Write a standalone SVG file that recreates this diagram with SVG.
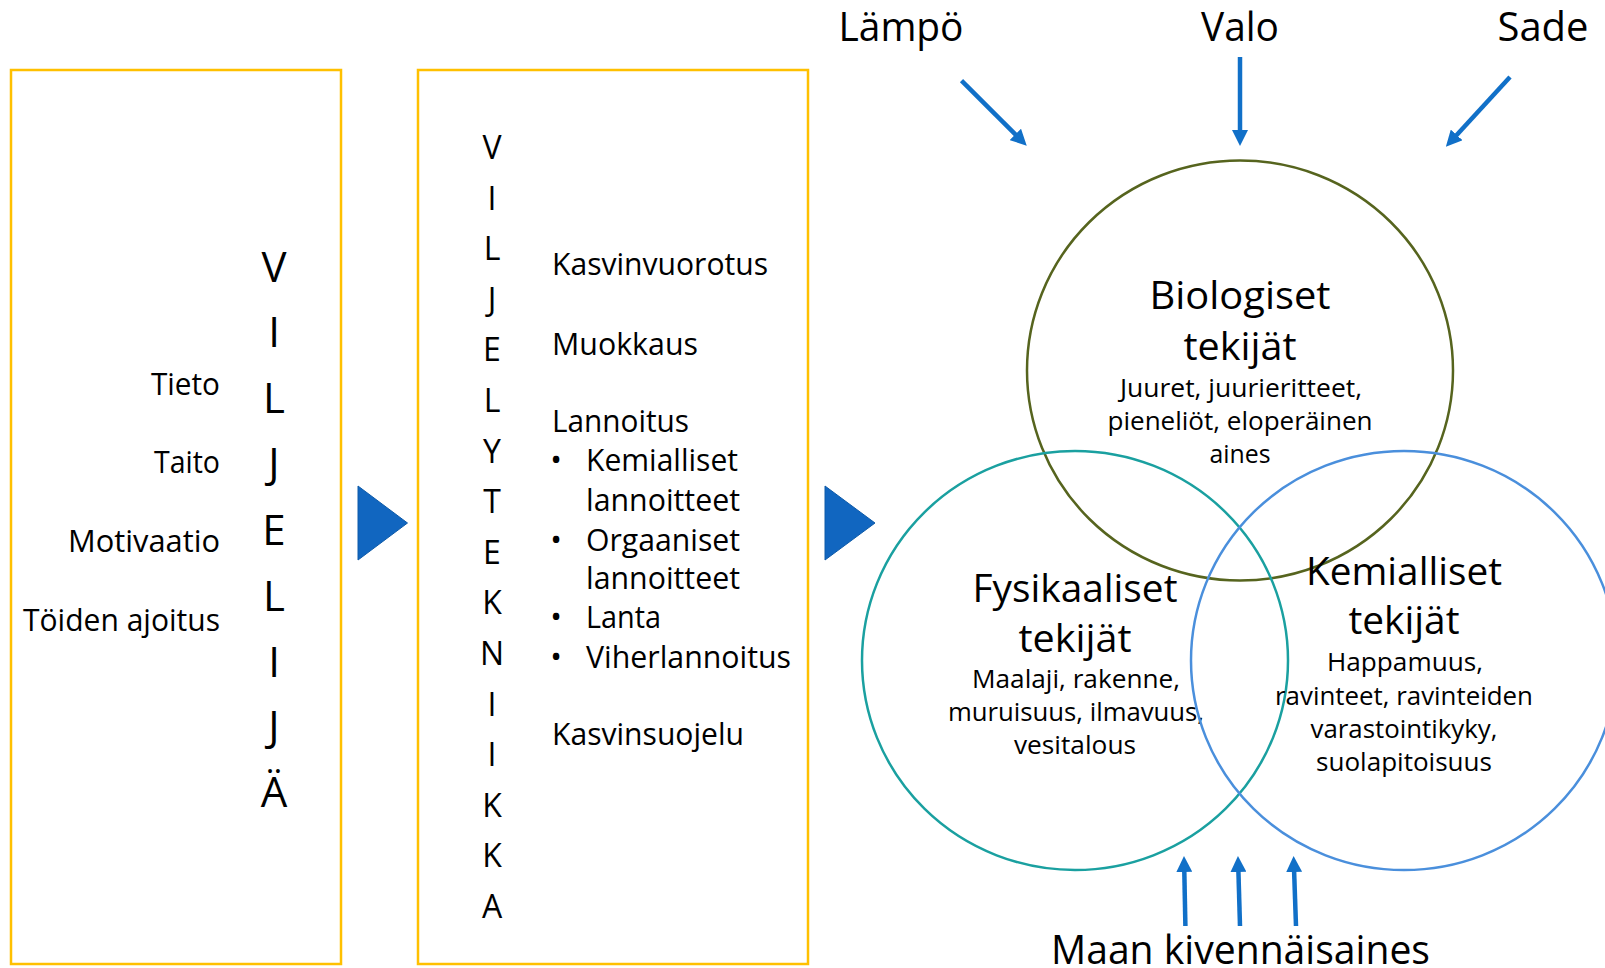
<svg xmlns="http://www.w3.org/2000/svg" width="1605" height="968" viewBox="0 0 1605 968">
<defs>
<style>
text{font-family:"Open Sans","Noto Sans","DejaVu Sans",sans-serif;fill:#000}
.box{fill:#fff;stroke:#FFC000;stroke-width:2.5}
.tri{fill:#1166C0;stroke:#0E5AA8;stroke-width:1}
.arr{stroke:#1170C8;stroke-width:4.5;fill:none;marker-end:url(#ah)}
.big{font-size:42px;text-anchor:middle}
.word{font-size:31px;text-anchor:end}
.col{font-size:32px;text-anchor:middle}
.li{font-size:31px}
.top{font-size:40px;text-anchor:middle}
.title{font-size:39px;text-anchor:middle}
.body{font-size:25px;text-anchor:middle}
</style>
<marker id="ah" viewBox="0 0 16 16" markerUnits="userSpaceOnUse" markerWidth="16" markerHeight="16" refX="1" refY="8" orient="auto">
<path d="M0,0 L16,8 L0,16 z" fill="#1170C8"/>
</marker>
</defs>
<rect width="1605" height="968" fill="#fff"/>

<g id="viljelija">
<rect class="box" x="11" y="70" width="330" height="894"/>
<text class="word" x="220" y="395" textLength="69" lengthAdjust="spacingAndGlyphs">Tieto</text>
<text class="word" x="220" y="473" textLength="66" lengthAdjust="spacingAndGlyphs">Taito</text>
<text class="word" x="220" y="552" textLength="152" lengthAdjust="spacingAndGlyphs">Motivaatio</text>
<text class="word" x="220" y="631" textLength="197" lengthAdjust="spacingAndGlyphs">Töiden ajoitus</text>
<text class="big" x="274" y="282">V</text>
<text class="big" x="274" y="347">I</text>
<text class="big" x="274" y="413">L</text>
<text class="big" x="274" y="478">J</text>
<text class="big" x="274" y="545">E</text>
<text class="big" x="274" y="611">L</text>
<text class="big" x="274" y="677">I</text>
<text class="big" x="274" y="741">J</text>
<text class="big" x="274" y="807">Ä</text>
</g>

<g id="arrow1"><polygon class="tri" points="358,486 407.5,523 358,560"/></g>

<g id="viljelytekniikka">
<rect class="box" x="418" y="70" width="390" height="894"/>
<text class="col" x="492" y="159">V</text>
<text class="col" x="492" y="209.6">I</text>
<text class="col" x="492" y="260.2">L</text>
<text class="col" x="492" y="310.8">J</text>
<text class="col" x="492" y="361.4">E</text>
<text class="col" x="492" y="412">L</text>
<text class="col" x="492" y="462.6">Y</text>
<text class="col" x="492" y="513.2">T</text>
<text class="col" x="492" y="563.8">E</text>
<text class="col" x="492" y="614.4">K</text>
<text class="col" x="492" y="665">N</text>
<text class="col" x="492" y="715.6">I</text>
<text class="col" x="492" y="766.2">I</text>
<text class="col" x="492" y="816.8">K</text>
<text class="col" x="492" y="867.4">K</text>
<text class="col" x="492" y="918">A</text>
<text class="li" x="552" y="275" textLength="216" lengthAdjust="spacingAndGlyphs">Kasvinvuorotus</text>
<text class="li" x="552" y="355" textLength="146" lengthAdjust="spacingAndGlyphs">Muokkaus</text>
<text class="li" x="552" y="432" textLength="137" lengthAdjust="spacingAndGlyphs">Lannoitus</text>
<text class="li" x="556" y="471" text-anchor="middle">•</text>
<text class="li" x="586" y="471" textLength="152" lengthAdjust="spacingAndGlyphs">Kemialliset</text>
<text class="li" x="586" y="511" textLength="154" lengthAdjust="spacingAndGlyphs">lannoitteet</text>
<text class="li" x="556" y="551" text-anchor="middle">•</text>
<text class="li" x="586" y="551" textLength="154" lengthAdjust="spacingAndGlyphs">Orgaaniset</text>
<text class="li" x="586" y="589" textLength="154" lengthAdjust="spacingAndGlyphs">lannoitteet</text>
<text class="li" x="556" y="628" text-anchor="middle">•</text>
<text class="li" x="586" y="628" textLength="75" lengthAdjust="spacingAndGlyphs">Lanta</text>
<text class="li" x="556" y="668" text-anchor="middle">•</text>
<text class="li" x="586" y="668" textLength="205" lengthAdjust="spacingAndGlyphs">Viherlannoitus</text>
<text class="li" x="552" y="745" textLength="192" lengthAdjust="spacingAndGlyphs">Kasvinsuojelu</text>
</g>

<g id="arrow2"><polygon class="tri" points="825,486 875,523 825,560"/></g>

<g id="biologiset">
<ellipse cx="1240" cy="370.5" rx="213" ry="210" fill="none" stroke="#56641E" stroke-width="2.5"/>
<text class="title" x="1240" y="309" textLength="181" lengthAdjust="spacingAndGlyphs">Biologiset</text>
<text class="title" x="1240" y="360" textLength="113" lengthAdjust="spacingAndGlyphs">tekijät</text>
<text class="body" x="1241" y="397" textLength="242" lengthAdjust="spacingAndGlyphs">Juuret, juurieritteet,</text>
<text class="body" x="1240" y="430" textLength="265" lengthAdjust="spacingAndGlyphs">pieneliöt, eloperäinen</text>
<text class="body" x="1240" y="463" textLength="61" lengthAdjust="spacingAndGlyphs">aines</text>
</g>

<g id="fysikaaliset">
<ellipse cx="1075" cy="660.5" rx="213" ry="209.5" fill="none" stroke="#1AA0A0" stroke-width="2.5"/>
<text class="title" x="1075" y="602" textLength="205" lengthAdjust="spacingAndGlyphs">Fysikaaliset</text>
<text class="title" x="1075" y="652" textLength="113" lengthAdjust="spacingAndGlyphs">tekijät</text>
<text class="body" x="1076" y="688" textLength="208" lengthAdjust="spacingAndGlyphs">Maalaji, rakenne,</text>
<text class="body" x="1076" y="721" textLength="256" lengthAdjust="spacingAndGlyphs">muruisuus, ilmavuus,</text>
<text class="body" x="1075" y="754" textLength="122" lengthAdjust="spacingAndGlyphs">vesitalous</text>
</g>

<g id="kemialliset">
<ellipse cx="1404" cy="660.5" rx="213" ry="209.5" fill="none" stroke="#4A8FDC" stroke-width="2.5"/>
<text class="title" x="1404" y="585" textLength="196" lengthAdjust="spacingAndGlyphs">Kemialliset</text>
<text class="title" x="1404" y="634" textLength="111" lengthAdjust="spacingAndGlyphs">tekijät</text>
<text class="body" x="1405" y="671" textLength="156" lengthAdjust="spacingAndGlyphs">Happamuus,</text>
<text class="body" x="1404" y="705" textLength="258" lengthAdjust="spacingAndGlyphs">ravinteet, ravinteiden</text>
<text class="body" x="1404" y="738" textLength="187" lengthAdjust="spacingAndGlyphs">varastointikyky,</text>
<text class="body" x="1404" y="771" textLength="176" lengthAdjust="spacingAndGlyphs">suolapitoisuus</text>
</g>

<g id="lampo"><text class="top" x="901" y="41" textLength="125" lengthAdjust="spacingAndGlyphs">Lämpö</text></g>
<g id="valo"><text class="top" x="1240" y="41" textLength="78" lengthAdjust="spacingAndGlyphs">Valo</text></g>
<g id="sade"><text class="top" x="1543" y="41" textLength="91" lengthAdjust="spacingAndGlyphs">Sade</text></g>
<g id="maan"><text class="top" x="1240.5" y="964" textLength="379" lengthAdjust="spacingAndGlyphs">Maan kivennäisaines</text></g>

<g id="connectors">
<line class="arr" x1="961.5" y1="80.7" x2="1016.1" y2="135.1"/>
<line class="arr" x1="1240" y1="57" x2="1240" y2="131"/>
<line class="arr" x1="1510" y1="77" x2="1456" y2="135.7"/>
<line class="arr" x1="1185.4" y1="926" x2="1184.3" y2="871"/>
<line class="arr" x1="1240" y1="926" x2="1238.4" y2="871"/>
<line class="arr" x1="1296" y1="926" x2="1294.1" y2="871"/>
</g>
</svg>
